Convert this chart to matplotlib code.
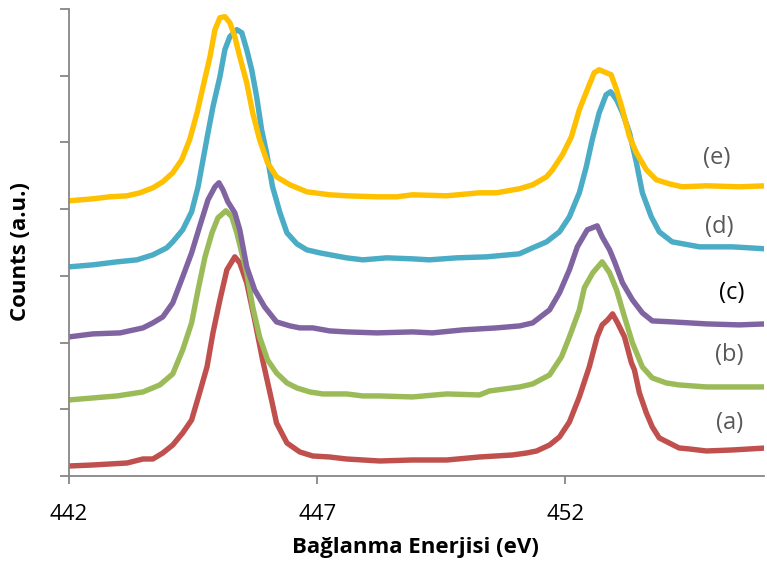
import matplotlib
matplotlib.use("Agg")
import matplotlib.pyplot as plt

# Binding energy (eV) and counts for each sample
x_a = [442.00, 442.48, 442.82, 443.17, 443.49, 443.69, 443.89, 444.09, 444.29, 444.47, 444.63, 444.78,
       444.90, 445.04, 445.18, 445.34, 445.44, 445.58, 445.74, 445.90, 446.08, 446.18, 446.39, 446.65,
       446.91, 447.25, 447.59, 448.26, 448.92, 449.61, 450.27, 450.93, 451.22, 451.42, 451.68, 451.88,
       452.08, 452.28, 452.48, 452.64, 452.74, 452.85, 452.95, 453.05, 453.19, 453.33, 453.39, 453.49,
       453.63, 453.75, 453.89, 454.09, 454.29, 454.50, 454.84, 455.36, 456.04]
y_a = [150, 165, 180, 195, 255, 255, 345, 465, 645, 840, 1245, 1635,
       2145, 2640, 3090, 3285, 3195, 2895, 2340, 1740, 1140, 795, 495, 360,
       300, 285, 255, 225, 240, 240, 285, 315, 345, 375, 465, 585,
       810, 1185, 1635, 2085, 2265, 2340, 2430, 2295, 2085, 1695, 1590, 1245,
       945, 735, 570, 495, 420, 405, 375, 390, 420]

x_b = [442.00, 442.48, 442.97, 443.49, 443.83, 444.09, 444.29, 444.47, 444.60, 444.74, 444.88, 445.00,
       445.16, 445.28, 445.38, 445.58, 445.70, 445.84, 446.00, 446.18, 446.39, 446.59, 446.85, 447.11,
       447.59, 447.92, 448.26, 448.92, 449.61, 450.27, 450.47, 451.08, 451.34, 451.68, 451.92, 452.08,
       452.28, 452.38, 452.55, 452.74, 452.89, 453.03, 453.19, 453.35, 453.55, 453.75, 454.03, 454.29,
       454.84, 455.50, 456.04]
y_b = [1140, 1170, 1200, 1260, 1365, 1530, 1890, 2295, 2790, 3285, 3645, 3870,
       3975, 3885, 3645, 3045, 2535, 2085, 1740, 1545, 1395, 1320, 1260, 1230,
       1230, 1200, 1200, 1185, 1230, 1215, 1275, 1335, 1380, 1515, 1785, 2085,
       2490, 2820, 3045, 3210, 3045, 2790, 2385, 1995, 1635, 1470, 1395, 1365,
       1335, 1335, 1335]

x_c = [442.00, 442.48, 443.03, 443.49, 443.69, 443.89, 444.09, 444.29, 444.47, 444.63, 444.80, 444.94,
       445.02, 445.10, 445.20, 445.34, 445.44, 445.58, 445.74, 445.94, 446.18, 446.45, 446.65, 446.91,
       447.25, 447.59, 448.20, 448.92, 449.32, 449.93, 450.61, 451.08, 451.34, 451.68, 451.88, 452.08,
       452.24, 452.44, 452.64, 452.74, 452.89, 452.99, 453.15, 453.35, 453.55, 453.75, 454.15, 454.50,
       454.84, 455.50, 456.04]
y_c = [2085, 2130, 2145, 2220, 2295, 2385, 2595, 2985, 3345, 3735, 4140, 4335,
       4395, 4290, 4110, 3945, 3690, 3135, 2790, 2535, 2310, 2250, 2220, 2220,
       2175, 2160, 2145, 2160, 2145, 2190, 2220, 2250, 2295, 2490, 2745, 3090,
       3435, 3690, 3750, 3585, 3390, 3210, 2895, 2640, 2445, 2325, 2310, 2295,
       2280, 2265, 2280]

x_d = [442.00, 442.48, 442.97, 443.37, 443.69, 443.97, 444.09, 444.29, 444.47, 444.60, 444.70, 444.80,
       444.90, 445.04, 445.14, 445.24, 445.38, 445.48, 445.58, 445.68, 445.78, 445.88, 445.98, 446.10,
       446.25, 446.39, 446.59, 446.79, 447.05, 447.59, 447.92, 448.40, 448.92, 449.26, 449.81, 450.41,
       451.07, 451.34, 451.62, 451.88, 452.08, 452.28, 452.42, 452.54, 452.68, 452.82, 452.91, 453.03,
       453.15, 453.29, 453.43, 453.55, 453.73, 453.89, 454.15, 454.70, 455.36, 456.04]
y_d = [3135, 3165, 3210, 3240, 3315, 3420, 3510, 3690, 3960, 4335, 4740, 5145,
       5535, 5985, 6390, 6585, 6690, 6645, 6390, 6090, 5685, 5190, 4845, 4335,
       3945, 3645, 3480, 3390, 3345, 3270, 3240, 3270, 3255, 3240, 3270, 3285,
       3330, 3420, 3510, 3660, 3885, 4245, 4635, 5040, 5445, 5715, 5760, 5640,
       5445, 5145, 4695, 4245, 3885, 3660, 3510, 3435, 3435, 3405]

x_e = [442.00, 442.48, 442.82, 443.17, 443.43, 443.69, 443.89, 444.09, 444.27, 444.43, 444.58, 444.70,
       444.84, 444.94, 445.04, 445.14, 445.24, 445.34, 445.44, 445.58, 445.70, 445.84, 446.00, 446.18,
       446.45, 446.79, 447.25, 447.59, 448.20, 448.60, 448.92, 449.61, 450.27, 450.61, 451.07, 451.34,
       451.62, 451.74, 451.94, 452.12, 452.28, 452.44, 452.58, 452.68, 452.82, 452.92, 453.03, 453.15,
       453.29, 453.43, 453.63, 453.83, 454.09, 454.35, 454.84, 455.50, 456.04]
y_e = [4125, 4155, 4185, 4200, 4245, 4320, 4410, 4545, 4740, 5040, 5445, 5835,
       6285, 6690, 6870, 6885, 6795, 6585, 6285, 5895, 5445, 5040, 4695, 4485,
       4365, 4260, 4215, 4200, 4185, 4185, 4215, 4200, 4245, 4245, 4305, 4365,
       4485, 4590, 4815, 5085, 5490, 5790, 6045, 6090, 6045, 6015, 5790, 5490,
       5085, 4845, 4590, 4440, 4380, 4335, 4350, 4335, 4350]

series_labels = ["(a)", "(b)", "(c)", "(d)", "(e)"]
label_x = [455.3, 455.3, 455.35, 455.1, 455.05]
label_y = [800, 1820, 2740, 3730, 4770]
x_ticks = [442, 447, 452]
y_ticks = [0, 1000, 2000, 3000, 4000, 5000, 6000, 7000]

colors = ["#C0504D", "#9BBB59", "#8064A2", "#4BACC6", "#FFC000"]
label_colors = ["#595959", "#595959", "#000000", "#595959", "#595959"]

fig = plt.figure(figsize=(7.67, 5.71), dpi=100)
ax = fig.add_axes([69 / 767, 1 - 476 / 571, (764 - 69) / 767, (476 - 9) / 571])

xs = [x_a, x_b, x_c, x_d, x_e]
ys = [y_a, y_b, y_c, y_d, y_e]
for xv, yv, c in zip(xs, ys, colors):
    ax.plot(xv, yv, color=c, lw=3.9, solid_joinstyle="round", solid_capstyle="round")

for lab, lx, ly, lc in zip(series_labels, label_x, label_y, label_colors):
    ax.text(lx, ly, lab, fontsize=17, color=lc, ha="center", va="center", family="Open Sans")

ax.set_xlim(442, 456)
ax.set_ylim(0, 7000)
ax.set_xticks(x_ticks)
ax.set_xticklabels([str(t) for t in x_ticks], fontsize=16, family="Open Sans")
ax.set_yticks(y_ticks)
ax.set_yticklabels([])
ax.tick_params(axis="x", direction="out", length=6, width=1.3, color="#868686", pad=14)
ax.tick_params(axis="y", direction="out", length=6.5, width=1.3, color="#868686")
for s in ["top", "right"]:
    ax.spines[s].set_visible(False)
for s in ["left", "bottom"]:
    ax.spines[s].set_color("#868686")
    ax.spines[s].set_linewidth(1.3)

ax.set_xlabel("Bağlanma Enerjisi (eV)", fontsize=16, fontweight="bold", family="Open Sans")
ax.set_ylabel("Counts (a.u.)", fontsize=16, fontweight="bold", family="Open Sans")
ax.xaxis.set_label_coords(0.498, -0.13)
ax.yaxis.set_label_coords(-0.055, 0.48)

fig.savefig("out.png", dpi=100)
